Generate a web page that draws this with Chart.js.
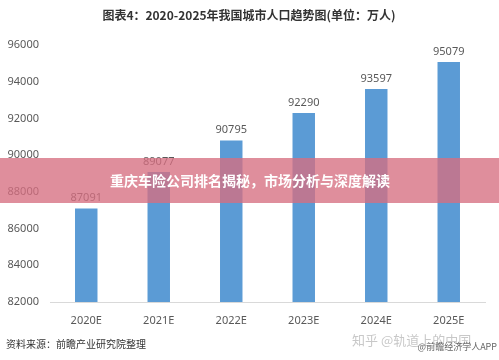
<!DOCTYPE html>
<html lang="zh">
<head>
<meta charset="UTF-8" />
<title>2020-2025年我国城市人口趋势图</title>
<script src="https://cdn.jsdelivr.net/npm/chart.js"></script>
<style>
  html, body { margin: 0; padding: 0; background: #fff; }
  #wrap { width: 499px; height: 360px; position: relative; }
</style>
</head>
<body>
<div id="wrap"><canvas id="popChart" width="499" height="360"></canvas></div>
<script>
  const years = ['2020E', '2021E', '2022E', '2023E', '2024E', '2025E'];
  const population = [87091, 89077, 90795, 92290, 93597, 95079];
  const yTicks = [82000, 84000, 86000, 88000, 90000, 92000, 94000, 96000];

  const numFont = '"Noto Sans", "Liberation Sans", sans-serif';
  const cjkFont = '"Noto Sans CJK SC", sans-serif';

  // title, value labels, banner and footer text
  const overlay = {
    id: 'overlay',
    afterDatasetsDraw(chart) {
      const c = chart.ctx;
      const meta = chart.getDatasetMeta(0);
      c.save();
      c.fillStyle = '#595959';
      c.font = '11px ' + numFont;
      c.textAlign = 'center';
      c.textBaseline = 'bottom';
      meta.data.forEach((bar, i) => {
        c.fillText(population[i], bar.x, bar.y - 5);
      });
      c.restore();
    },
    afterDraw(chart) {
      const c = chart.ctx;
      c.save();
      c.fillStyle = '#333';
      c.font = 'bold 12px ' + cjkFont;
      c.textAlign = 'center';
      c.textBaseline = 'middle';
      c.fillText('图表4：2020-2025年我国城市人口趋势图(单位：万人)', 249, 15);

      c.fillStyle = '#333';
      c.font = '10px ' + cjkFont;
      c.textAlign = 'left';
      c.fillText('资料来源：前瞻产业研究院整理', 6, 344);

      c.fillStyle = '#c8c8c8';
      c.font = '13px ' + cjkFont;
      c.fillText('知乎 @轨道上的中国', 352, 340);
      c.fillStyle = '#666';
      c.font = '9px ' + cjkFont;
      c.textAlign = 'right';
      c.fillText('@前瞻经济学人APP', 497, 347);

      c.fillStyle = 'rgba(214, 110, 128, 0.78)';
      c.fillRect(0, 158, 499, 45);
      c.fillStyle = '#fff';
      c.font = 'bold 14px ' + cjkFont;
      c.textAlign = 'center';
      c.fillText('重庆车险公司排名揭秘，市场分析与深度解读', 250, 181);
      c.restore();
    }
  };

  new Chart(document.getElementById('popChart'), {
    type: 'bar',
    data: {
      labels: years,
      datasets: [{
        data: population,
        backgroundColor: '#5b9bd5',
        barPercentage: 0.31,
        categoryPercentage: 1
      }]
    },
    options: {
      responsive: false,
      animation: false,
      layout: { padding: { top: 45, right: 14, left: 0, bottom: 0 } },
      plugins: { legend: { display: false }, tooltip: { enabled: false } },
      scales: {
        x: {
          grid: { display: false },
          border: { color: '#d9d9d9' },
          ticks: { color: '#595959', font: { size: 11, family: numFont }, padding: 4 },
          afterFit: s => { s.height = 58; }
        },
        y: {
          min: 82000,
          max: 96000,
          afterBuildTicks: s => { s.ticks = yTicks.map(v => ({ value: v })); },
          grid: { display: false },
          border: { display: false },
          ticks: { color: '#595959', font: { size: 11, family: numFont }, padding: 3, callback: v => String(v) },
          afterFit: s => { s.width = 50; }
        }
      }
    },
    plugins: [overlay]
  });
</script>
</body>
</html>
